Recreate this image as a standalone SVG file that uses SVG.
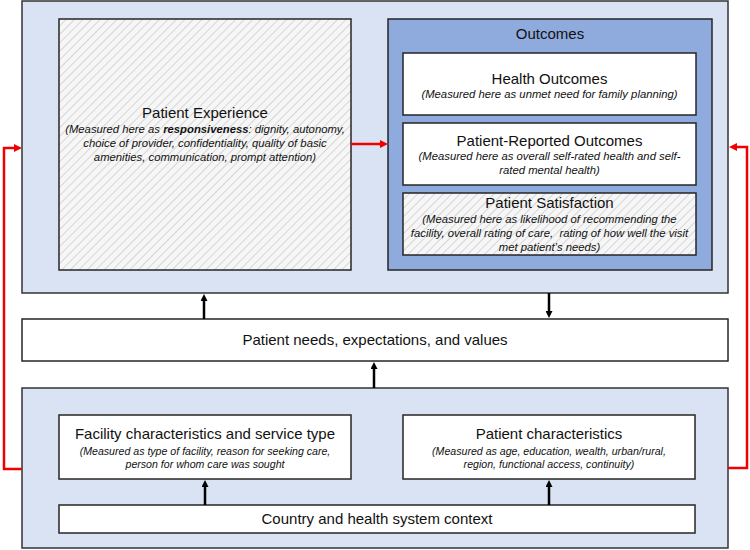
<svg xmlns="http://www.w3.org/2000/svg" width="750" height="550" viewBox="0 0 750 550">
  <defs>
    <pattern id="hatch" width="6" height="6" patternUnits="userSpaceOnUse" patternTransform="rotate(45)">
      <rect width="6" height="6" fill="#f6f6f6"/>
      <line x1="0" y1="0" x2="0" y2="6" stroke="#d6d6d6" stroke-width="2"/>
    </pattern>
    <marker id="ah" viewBox="0 0 8 8" refX="0" refY="4" markerWidth="7" markerHeight="7" markerUnits="userSpaceOnUse" orient="auto">
      <path d="M0,0 L8,4 L0,8 z" fill="#000"/>
    </marker>
    <marker id="ahr" viewBox="0 0 8 8" refX="0" refY="4" markerWidth="8" markerHeight="8" markerUnits="userSpaceOnUse" orient="auto">
      <path d="M0,0 L8,4 L0,8 z" fill="#f00000"/>
    </marker>
  </defs>
  <style>
    .outer { fill: #dae3f3; stroke: #333; stroke-width: 1.5; }
    .white { fill: #ffffff; stroke: #262626; stroke-width: 1.5; }
    .hatched { fill: url(#hatch); stroke: #262626; stroke-width: 1.5; }
    .outc { fill: #8faadc; stroke: #262626; stroke-width: 1.5; }
    .t { font-family: "Liberation Sans", Arial, sans-serif; font-size: 15px; fill: #111; text-anchor: middle; }
    .i { font-family: "Liberation Sans", Arial, sans-serif; font-size: 11.3px; font-style: italic; fill: #111; text-anchor: middle; }
    .is { font-family: "Liberation Sans", Arial, sans-serif; font-size: 10.6px; font-style: italic; fill: #111; text-anchor: middle; }
    .blk { stroke: #000; stroke-width: 2.5; fill: none; marker-end: url(#ah); }
    .red { stroke: #f00000; stroke-width: 2.5; fill: none; marker-end: url(#ahr); }
  </style>

  <g id="top-context">
    <rect class="outer" x="22" y="1" width="706" height="292"/>
  </g>

  <g id="patient-experience">
    <rect class="hatched" x="59" y="19" width="292" height="251"/>
    <text class="t" x="205" y="118">Patient Experience</text>
    <text class="i" x="205" y="133">(Measured here as <tspan font-weight="bold">responsiveness</tspan>: dignity, autonomy,</text>
    <text class="i" x="205" y="147">choice of provider, confidentiality, quality of basic</text>
    <text class="i" x="205" y="161">amenities, communication, prompt attention)</text>
  </g>

  <g id="outcomes">
    <rect class="outc" x="388" y="19" width="324" height="251"/>
    <text class="t" x="550" y="39">Outcomes</text>
  </g>

  <g id="health-outcomes">
    <rect class="white" x="403" y="53" width="293" height="62"/>
    <text class="t" x="549.5" y="84">Health Outcomes</text>
    <text class="i" x="549.5" y="98">(Measured here as unmet need for family planning)</text>
  </g>

  <g id="patient-reported-outcomes">
    <rect class="white" x="403" y="123" width="293" height="62"/>
    <text class="t" x="549.5" y="146">Patient-Reported Outcomes</text>
    <text class="i" x="549.5" y="160">(Measured here as overall self-rated health and self-</text>
    <text class="i" x="549.5" y="174">rated mental health)</text>
  </g>

  <g id="patient-satisfaction">
    <rect class="hatched" x="403" y="193" width="293" height="62"/>
    <text class="t" x="549.5" y="208">Patient Satisfaction</text>
    <text class="i" x="549.5" y="223">(Measured here as likelihood of recommending the</text>
    <text class="i" x="549.5" y="237" xml:space="preserve">facility, overall rating of care,  rating of how well the visit</text>
    <text class="i" x="549.5" y="251">met patient’s needs)</text>
  </g>

  <g id="patient-needs">
    <rect class="white" x="22" y="319" width="706" height="42"/>
    <text class="t" x="375" y="345">Patient needs, expectations, and values</text>
  </g>

  <g id="bottom-context">
    <rect class="outer" x="22" y="388" width="706" height="160"/>
  </g>

  <g id="facility">
    <rect class="white" x="59" y="415" width="292" height="64"/>
    <text class="t" x="205" y="439">Facility characteristics and service type</text>
    <text class="is" x="205" y="455">(Measured as type of facility, reason for seeking care,</text>
    <text class="is" x="205" y="468">person for whom care was sought</text>
  </g>

  <g id="patient-characteristics">
    <rect class="white" x="403" y="415" width="292" height="64"/>
    <text class="t" x="549" y="439">Patient characteristics</text>
    <text class="is" x="549" y="455">(Measured as age, education, wealth, urban/rural,</text>
    <text class="is" x="549" y="468">region, functional access, continuity)</text>
  </g>

  <g id="country">
    <rect class="white" x="59" y="505" width="636" height="28"/>
    <text class="t" x="377" y="524">Country and health system context</text>
  </g>

  <g id="connectors">
    <line class="blk" x1="204" y1="319" x2="204" y2="301"/>
    <line class="blk" x1="549" y1="293" x2="549" y2="311"/>
    <line class="blk" x1="374" y1="388" x2="374" y2="369"/>
    <line class="blk" x1="205" y1="505" x2="205" y2="487"/>
    <line class="blk" x1="549" y1="505" x2="549" y2="487"/>
    <line class="red" x1="351" y1="144" x2="380" y2="144"/>
    <polyline class="red" points="22,469 4,469 4,148 14,148"/>
    <polyline class="red" points="728,468 747,468 747,147 737,147"/>
  </g>
</svg>
